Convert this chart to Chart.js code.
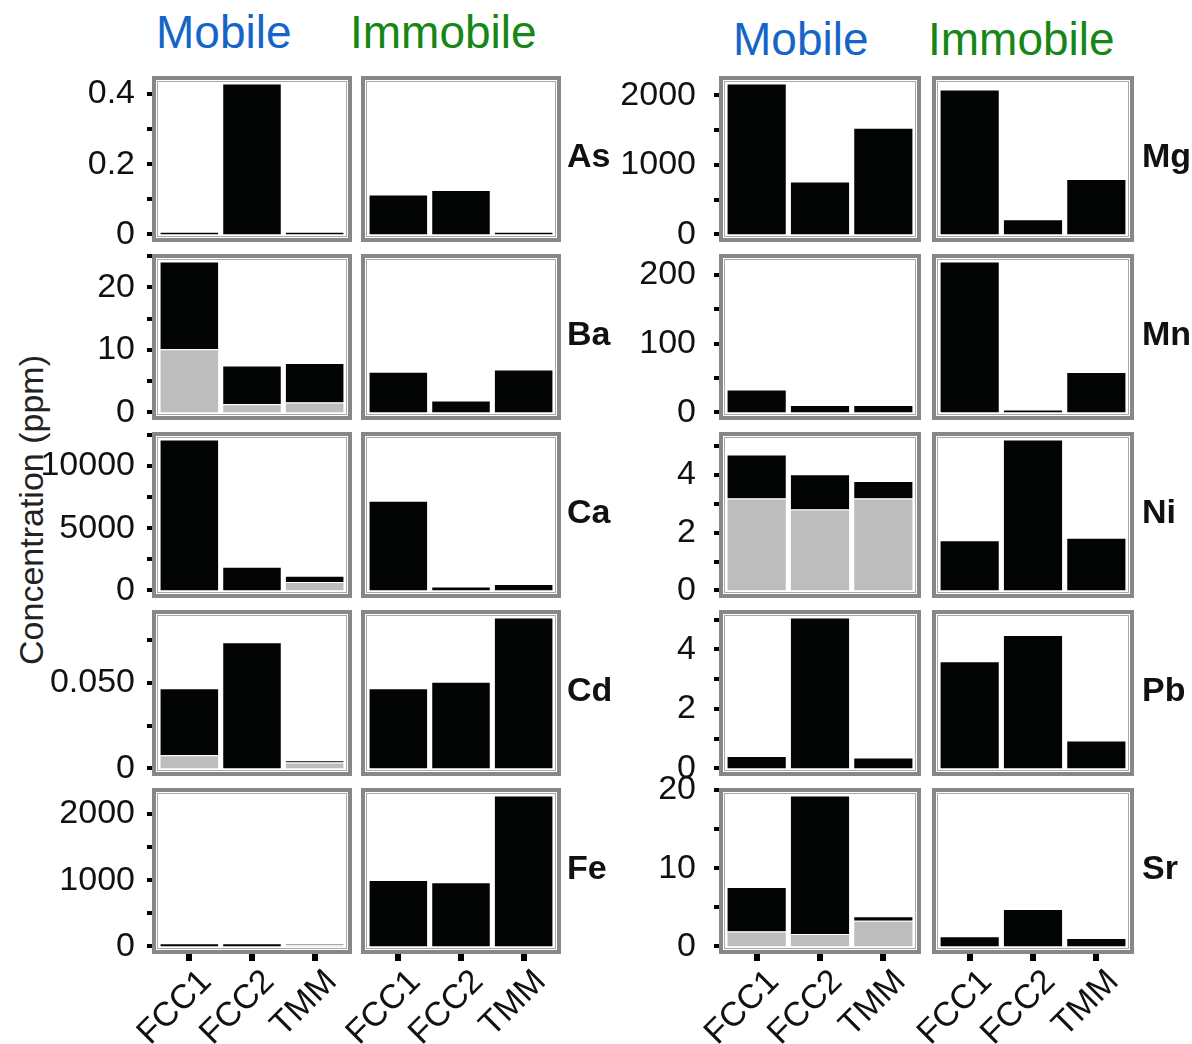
<!DOCTYPE html>
<html>
<head>
<meta charset="utf-8">
<title>Concentration by fraction</title>
<script src="https://cdn.jsdelivr.net/npm/chart.js@4.4.1/dist/chart.umd.min.js"></script>
<style>
  body { margin: 0; background: #fff; width: 1192px; height: 1044px; position: relative; overflow: hidden;
         font-family: "Liberation Sans", Arial, Helvetica, sans-serif; }
  canvas.panel { position: absolute; }
  .head { position: absolute; font-size: 46px; line-height: 46px; white-space: nowrap; }
  .mob { color: #1565c8; }
  .imm { color: #168616; }
  .elem { position: absolute; font-weight: bold; font-size: 34px; line-height: 34px; color: #111; white-space: nowrap; }
  #ylab { position: absolute; left: 31px; top: 510px; font-size: 34px; line-height: 34px; color: #222;
          transform: translate(-50%, -50%) rotate(-90deg); white-space: nowrap; }
</style>
</head>
<body>
<div class="head mob" style="left:156px;top:9px">Mobile</div>
<div class="head imm" style="left:350px;top:9px">Immobile</div>
<div class="head mob" style="left:733px;top:16px">Mobile</div>
<div class="head imm" style="left:928px;top:16px">Immobile</div>
<div id="ylab">Concentration (ppm)</div>

<script>
// ---------- data ----------
const sites = ['FCC1', 'FCC2', 'TMM'];

// mobile bars are stacked: grey part at the bottom, black part on top
const asMobileGrey = [0, 0, 0];
const asMobileBlack = [0.008, 0.43, 0.008];
const asImmobile = [0.114, 0.127, 0.008];

const baMobileGrey = [10.1, 1.3, 1.6];
const baMobileBlack = [14.0, 6.2, 6.3];
const baImmobile = [6.5, 1.9, 6.85];

const caMobileGrey = [0, 0, 670];
const caMobileBlack = [12130, 1910, 520];
const caImmobile = [7220, 320, 510];

const cdMobileGrey = [0.0077, 0, 0.0035];
const cdMobileBlack = [0.0392, 0.0739, 0.0013];
const cdImmobile = [0.0469, 0.0508, 0.0883];

const feMobileGrey = [0, 0, 25];
const feMobileBlack = [50, 50, 20];
const feImmobile = [1003, 967, 2276];

const mgMobileGrey = [0, 0, 0];
const mgMobileBlack = [2168, 760, 1532];
const mgImmobile = [2081, 217, 795];

const mnMobileGrey = [0, 0, 0];
const mnMobileBlack = [33.3, 11, 11];
const mnImmobile = [219.7, 4.3, 58.8];

const niMobileGrey = [3.18, 2.80, 3.18];
const niMobileBlack = [1.52, 1.22, 0.61];
const niImmobile = [1.74, 5.22, 1.82];

const pbMobileGrey = [0, 0, 0];
const pbMobileBlack = [0.42, 5.07, 0.365];
const pbImmobile = [3.6, 4.48, 0.94];

const srMobileGrey = [1.9, 1.6, 3.3];
const srMobileBlack = [5.7, 17.7, 0.56];
const srImmobile = [1.29, 4.8, 1.08];

// labelled y ticks, plus the spacing of all tick marks
const asTicks = ['0', '0.2', '0.4'];   const asStep = 0.1;
const baTicks = ['0', '10', '20'];     const baStep = 5;
const caTicks = ['0', '5000', '10000']; const caStep = 2500;
const cdTicks = ['0', '0.050'];        const cdStep = 0.025;
const feTicks = ['0', '1000', '2000']; const feStep = 500;
const mgTicks = ['0', '1000', '2000']; const mgStep = 500;
const mnTicks = ['0', '100', '200'];   const mnStep = 50;
const niTicks = ['0', '2', '4'];       const niStep = 1;
const pbTicks = ['0', '2', '4'];       const pbStep = 1;
const srTicks = ['0', '10', '20'];     const srStep = 5;

const leftRows = [
  { name: 'As', grey: asMobileGrey, black: asMobileBlack, imm: asImmobile, ticks: asTicks, step: asStep },
  { name: 'Ba', grey: baMobileGrey, black: baMobileBlack, imm: baImmobile, ticks: baTicks, step: baStep },
  { name: 'Ca', grey: caMobileGrey, black: caMobileBlack, imm: caImmobile, ticks: caTicks, step: caStep },
  { name: 'Cd', grey: cdMobileGrey, black: cdMobileBlack, imm: cdImmobile, ticks: cdTicks, step: cdStep },
  { name: 'Fe', grey: feMobileGrey, black: feMobileBlack, imm: feImmobile, ticks: feTicks, step: feStep }
];
const rightRows = [
  { name: 'Mg', grey: mgMobileGrey, black: mgMobileBlack, imm: mgImmobile, ticks: mgTicks, step: mgStep },
  { name: 'Mn', grey: mnMobileGrey, black: mnMobileBlack, imm: mnImmobile, ticks: mnTicks, step: mnStep },
  { name: 'Ni', grey: niMobileGrey, black: niMobileBlack, imm: niImmobile, ticks: niTicks, step: niStep },
  { name: 'Pb', grey: pbMobileGrey, black: pbMobileBlack, imm: pbImmobile, ticks: pbTicks, step: pbStep },
  { name: 'Sr', grey: srMobileGrey, black: srMobileBlack, imm: srImmobile, ticks: srTicks, step: srStep }
];

// ---------- layout ----------
const rowTop = [76, 254, 432, 610, 788];
const panelH = 166;
const inset = 6;        // gap between panel frame and the outer categories
const padTop = 20, padBottom = 20, xAxisH = 100;
const groups = [
  { rows: leftRows, mobX: 152, immX: 361, w: 200, axisW: 120, labelGap: 9, labelX: 567 },
  { rows: rightRows, mobX: 719, immX: 932, w: 202, axisW: 110, labelGap: 15, labelX: 1142 }
];

const BLACK = '#030505';
const GREY = '#bdbdbd';
const FONT = '"Liberation Sans", Arial, Helvetica, sans-serif';

Chart.defaults.font.family = FONT;
Chart.defaults.color = '#111';

// grey frame round each panel, plus the small square tick marks outside it
const frame = {
  id: 'frame',
  afterDatasetsDraw(chart, args, o) {
    const ctx = chart.ctx, a = chart.chartArea;
    const L = Math.round(a.left - o.inset), R = Math.round(a.right + o.inset);
    const T = Math.round(a.top), B = Math.round(a.bottom);
    ctx.save();
    ctx.fillStyle = '#000';
    if (o.yTicks) {
      const y = chart.scales.y;
      y.ticks.forEach(t => {
        const py = Math.round(y.getPixelForValue(t.value));
        ctx.fillRect(L - 5, py - 2, 6, 4);
      });
    }
    if (o.xTicks) {
      const x = chart.scales.x;
      x.ticks.forEach((t, i) => {
        const px = Math.round(x.getPixelForTick(i));
        ctx.fillRect(px - 3, B, 6, 7);
      });
    }
    ctx.strokeStyle = '#878787';
    ctx.lineWidth = 4;
    ctx.strokeRect(L + 2, T + 2, R - L - 4, B - T - 4);
    ctx.strokeStyle = '#a8a8a8';
    ctx.lineWidth = 1;
    ctx.strokeRect(L + 5.5, T + 5.5, R - L - 11, B - T - 11);
    ctx.restore();
  }
};

function barSet(values, color) {
  return {
    data: values,
    backgroundColor: color,
    borderColor: '#fff',
    borderWidth: { top: 1, left: 1, right: 1, bottom: 0 },
    borderSkipped: false,
    categoryPercentage: 1,
    barPercentage: 0.95
  };
}

function addPanel(p) {
  const c = document.createElement('canvas');
  c.className = 'panel';
  c.width = p.width;
  c.height = p.height;
  c.style.left = p.left + 'px';
  c.style.top = p.top + 'px';
  document.body.appendChild(c);

  new Chart(c, {
    type: 'bar',
    data: { labels: sites, datasets: p.datasets },
    options: {
      responsive: false,
      animation: false,
      events: [],
      layout: { padding: p.padding },
      plugins: {
        legend: { display: false },
        tooltip: { enabled: false },
        frame: { inset: inset, yTicks: p.showY, xTicks: p.showX }
      },
      scales: {
        x: {
          stacked: true,
          display: p.showX,
          offset: true,
          grid: { display: false },
          border: { display: false },
          ticks: { minRotation: 45, maxRotation: 45, padding: 0, labelOffset: 17, font: { size: 34 }, color: '#111' },
          afterFit: s => {
            if (!p.showX) return;
            s.height = xAxisH; s.paddingLeft = 0; s.paddingRight = 0;
          }
        },
        y: {
          stacked: true,
          display: p.showY,
          min: p.ymin,
          max: p.ymax,
          grid: { display: false },
          border: { display: false },
          ticks: {
            autoSkip: false,
            padding: inset + p.labelGap,
            font: { size: 34 },
            color: '#111',
            callback: v => {
              const hit = p.tickText.find(s => Math.abs(Number(s) - v) < p.step * 1e-3);
              return hit === undefined ? '' : hit;
            }
          },
          // tick marks every step from zero upward; only some carry a label
          afterBuildTicks: s => {
            const list = [];
            for (let k = 0; k * p.step <= s.max; k++) {
              list.push({ value: Number((k * p.step).toPrecision(12)) });
            }
            s.ticks = list;
          },
          afterFit: s => {
            if (!p.showY) return;
            s.width = p.axisW + inset; s.paddingTop = 0; s.paddingBottom = 0;
          }
        }
      }
    },
    plugins: [frame]
  });
}

groups.forEach(g => {
  g.rows.forEach((row, r) => {
    const bottom = r === g.rows.length - 1;
    // shared y range for the row: data span plus 5% either side
    let top = 0;
    sites.forEach((s, i) => {
      top = Math.max(top, row.grey[i] + row.black[i], row.imm[i]);
    });
    const ymin = -0.05 * top, ymax = 1.05 * top;
    const canvasTop = rowTop[r] - padTop;
    const height = padTop + panelH + (bottom ? xAxisH : padBottom);
    const common = {
      top: canvasTop, height: height, ymin: ymin, ymax: ymax, step: row.step,
      tickText: row.ticks, showX: bottom, labelGap: g.labelGap, axisW: g.axisW
    };

    addPanel(Object.assign({}, common, {
      left: g.mobX - g.axisW,
      width: g.axisW + g.w + 10,
      showY: true,
      padding: { left: 0, right: inset + 10, top: padTop, bottom: bottom ? 0 : padBottom },
      datasets: [barSet(row.grey, GREY), barSet(row.black, BLACK)]
    }));

    addPanel(Object.assign({}, common, {
      left: g.immX - 70,
      width: 70 + g.w + 10,
      showY: false,
      padding: { left: 70 + inset, right: inset + 10, top: padTop, bottom: bottom ? 0 : padBottom },
      datasets: [barSet(row.imm, BLACK)]
    }));

    // element name to the right of each row
    const lab = document.createElement('div');
    lab.className = 'elem';
    lab.textContent = row.name;
    lab.style.left = g.labelX + 'px';
    lab.style.top = (rowTop[r] + panelH / 2 - 21) + 'px';
    document.body.appendChild(lab);
  });
});
</script>
</body>
</html>
